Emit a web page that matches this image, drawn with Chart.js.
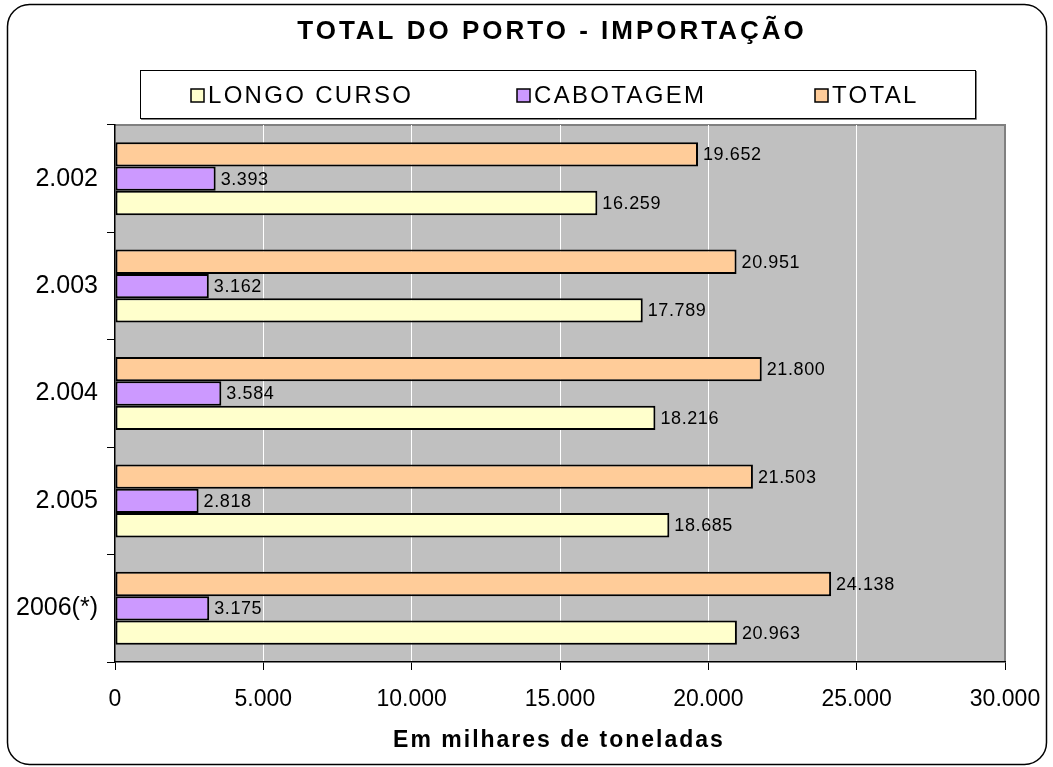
<!DOCTYPE html>
<html>
<head>
<meta charset="utf-8">
<script src="https://cdn.jsdelivr.net/npm/chart.js@4"></script>
<style>
  html, body { margin: 0; padding: 0; background: #fff; }
  #wrap { width: 1053px; height: 767px; position: relative; }
</style>
</head>
<body>
<div id="wrap"><canvas id="chart" width="1053" height="767"></canvas></div>
<script>
const years = ['2.002', '2.003', '2.004', '2.005', '2006(*)'];
const longoCurso = [16259, 17789, 18216, 18685, 20963];
const cabotagem = [3393, 3162, 3584, 2818, 3175];
const total = [19652, 20951, 21800, 21503, 24138];
const xTicks = [0, 5000, 10000, 15000, 20000, 25000, 30000];

const fmt = v => v.toLocaleString('de-DE');
const FONT = 'Arial, "Liberation Sans"';

// frame, plot background, title, legend and value labels
const decor = {
    id: 'decor',
    beforeDraw(chart) {
        const ctx = chart.ctx, a = chart.chartArea;
        ctx.save();
        ctx.fillStyle = '#fff';
        ctx.fillRect(0, 0, chart.width, chart.height);
        ctx.strokeStyle = '#000';
        ctx.lineWidth = 1.5;
        ctx.beginPath();
        ctx.roundRect(7.5, 4.5, 1039, 760, 22);
        ctx.stroke();
        ctx.fillStyle = '#C0C0C0';
        ctx.fillRect(a.left, a.top, a.right - a.left, a.bottom - a.top);
        ctx.strokeStyle = '#808080';
        ctx.lineWidth = 2;
        ctx.beginPath();
        ctx.moveTo(a.left, a.top);
        ctx.lineTo(a.right, a.top);
        ctx.lineTo(a.right, a.bottom);
        ctx.stroke();
        ctx.restore();
    },
    afterDraw(chart) {
        const ctx = chart.ctx;
        ctx.save();
        ctx.fillStyle = '#000';
        ctx.textBaseline = 'middle';
        ctx.textAlign = 'center';
        ctx.letterSpacing = '3px';
        ctx.font = 'bold 26px ' + FONT;
        ctx.fillText('TOTAL DO PORTO - IMPORTAÇÃO', 552, 32);
        ctx.letterSpacing = '2px';
        ctx.font = 'bold 23px ' + FONT;
        ctx.fillText('Em milhares de toneladas', 559, 741);

        // legend box
        ctx.strokeStyle = '#000';
        ctx.lineWidth = 1;
        ctx.strokeRect(140.5, 70.5, 835, 48);
        ctx.strokeStyle = '#808080';
        ctx.beginPath();
        ctx.moveTo(141, 119.5); ctx.lineTo(976.5, 119.5); ctx.lineTo(976.5, 71);
        ctx.stroke();
        const items = [
            { ds: 2, x: 191 },
            { ds: 1, x: 517 },
            { ds: 0, x: 815 }
        ];
        ctx.letterSpacing = '2.3px';
        ctx.font = '24px ' + FONT;
        ctx.textAlign = 'left';
        items.forEach(it => {
            const ds = chart.data.datasets[it.ds];
            ctx.fillStyle = ds.backgroundColor;
            ctx.fillRect(it.x, 89, 13, 13);
            ctx.strokeStyle = '#000';
            ctx.lineWidth = 1.5;
            ctx.strokeRect(it.x, 89, 13, 13);
            ctx.fillStyle = '#000';
            ctx.fillText(ds.label, it.x + 17, 96);
        });

        // values at bar ends
        ctx.letterSpacing = '0.6px';
        ctx.font = '18px ' + FONT;
        chart.data.datasets.forEach((ds, i) => {
            chart.getDatasetMeta(i).data.forEach((bar, j) => {
                ctx.fillText(fmt(ds.data[j]), bar.x + 5, bar.y + 1);
            });
        });
        ctx.restore();
    }
};

const barStyle = { borderColor: '#000', borderWidth: 2, borderSkipped: false,
    categoryPercentage: 0.68, barPercentage: 1.0 };

new Chart(document.getElementById('chart'), {
    type: 'bar',
    data: {
        labels: years,
        datasets: [
            Object.assign({ label: 'TOTAL', data: total, backgroundColor: '#FFCC99' }, barStyle),
            Object.assign({ label: 'CABOTAGEM', data: cabotagem, backgroundColor: '#CC99FF' }, barStyle),
            Object.assign({ label: 'LONGO CURSO', data: longoCurso, backgroundColor: '#FFFFCC' }, barStyle)
        ]
    },
    options: {
        indexAxis: 'y',
        responsive: false,
        animation: false,
        devicePixelRatio: 1,
        layout: { padding: { top: 125, right: 48, left: 0, bottom: 0 } },
        plugins: {
            legend: { display: false },
            title: { display: false },
            tooltip: { enabled: false }
        },
        scales: {
            x: {
                min: 0, max: 30000,
                afterBuildTicks(s) { s.ticks = xTicks.map(v => ({ value: v })); },
                afterFit(s) { s.height = 105; s.paddingRight = 0; },
                ticks: {
                    color: '#000',
                    font: { size: 23, family: FONT },
                    padding: 16,
                    maxRotation: 0,
                    callback: v => fmt(v)
                },
                grid: {
                    color: c => (c.tick && (c.tick.value === 0 || c.tick.value === 30000)) ? 'rgba(0,0,0,0)' : '#fff',
                    tickColor: '#000',
                    tickLength: 8,
                    lineWidth: 1
                },
                border: { color: '#000', width: 1.5 }
            },
            y: {
                afterFit(s) { s.width = 115; },
                ticks: {
                    color: '#000',
                    font: { size: 25, family: FONT },
                    padding: 9
                },
                grid: {
                    drawOnChartArea: false,
                    tickColor: '#000',
                    tickLength: 8,
                    offset: true
                },
                border: { color: '#000', width: 1.5 }
            }
        }
    },
    plugins: [decor]
});
</script>
</body>
</html>
